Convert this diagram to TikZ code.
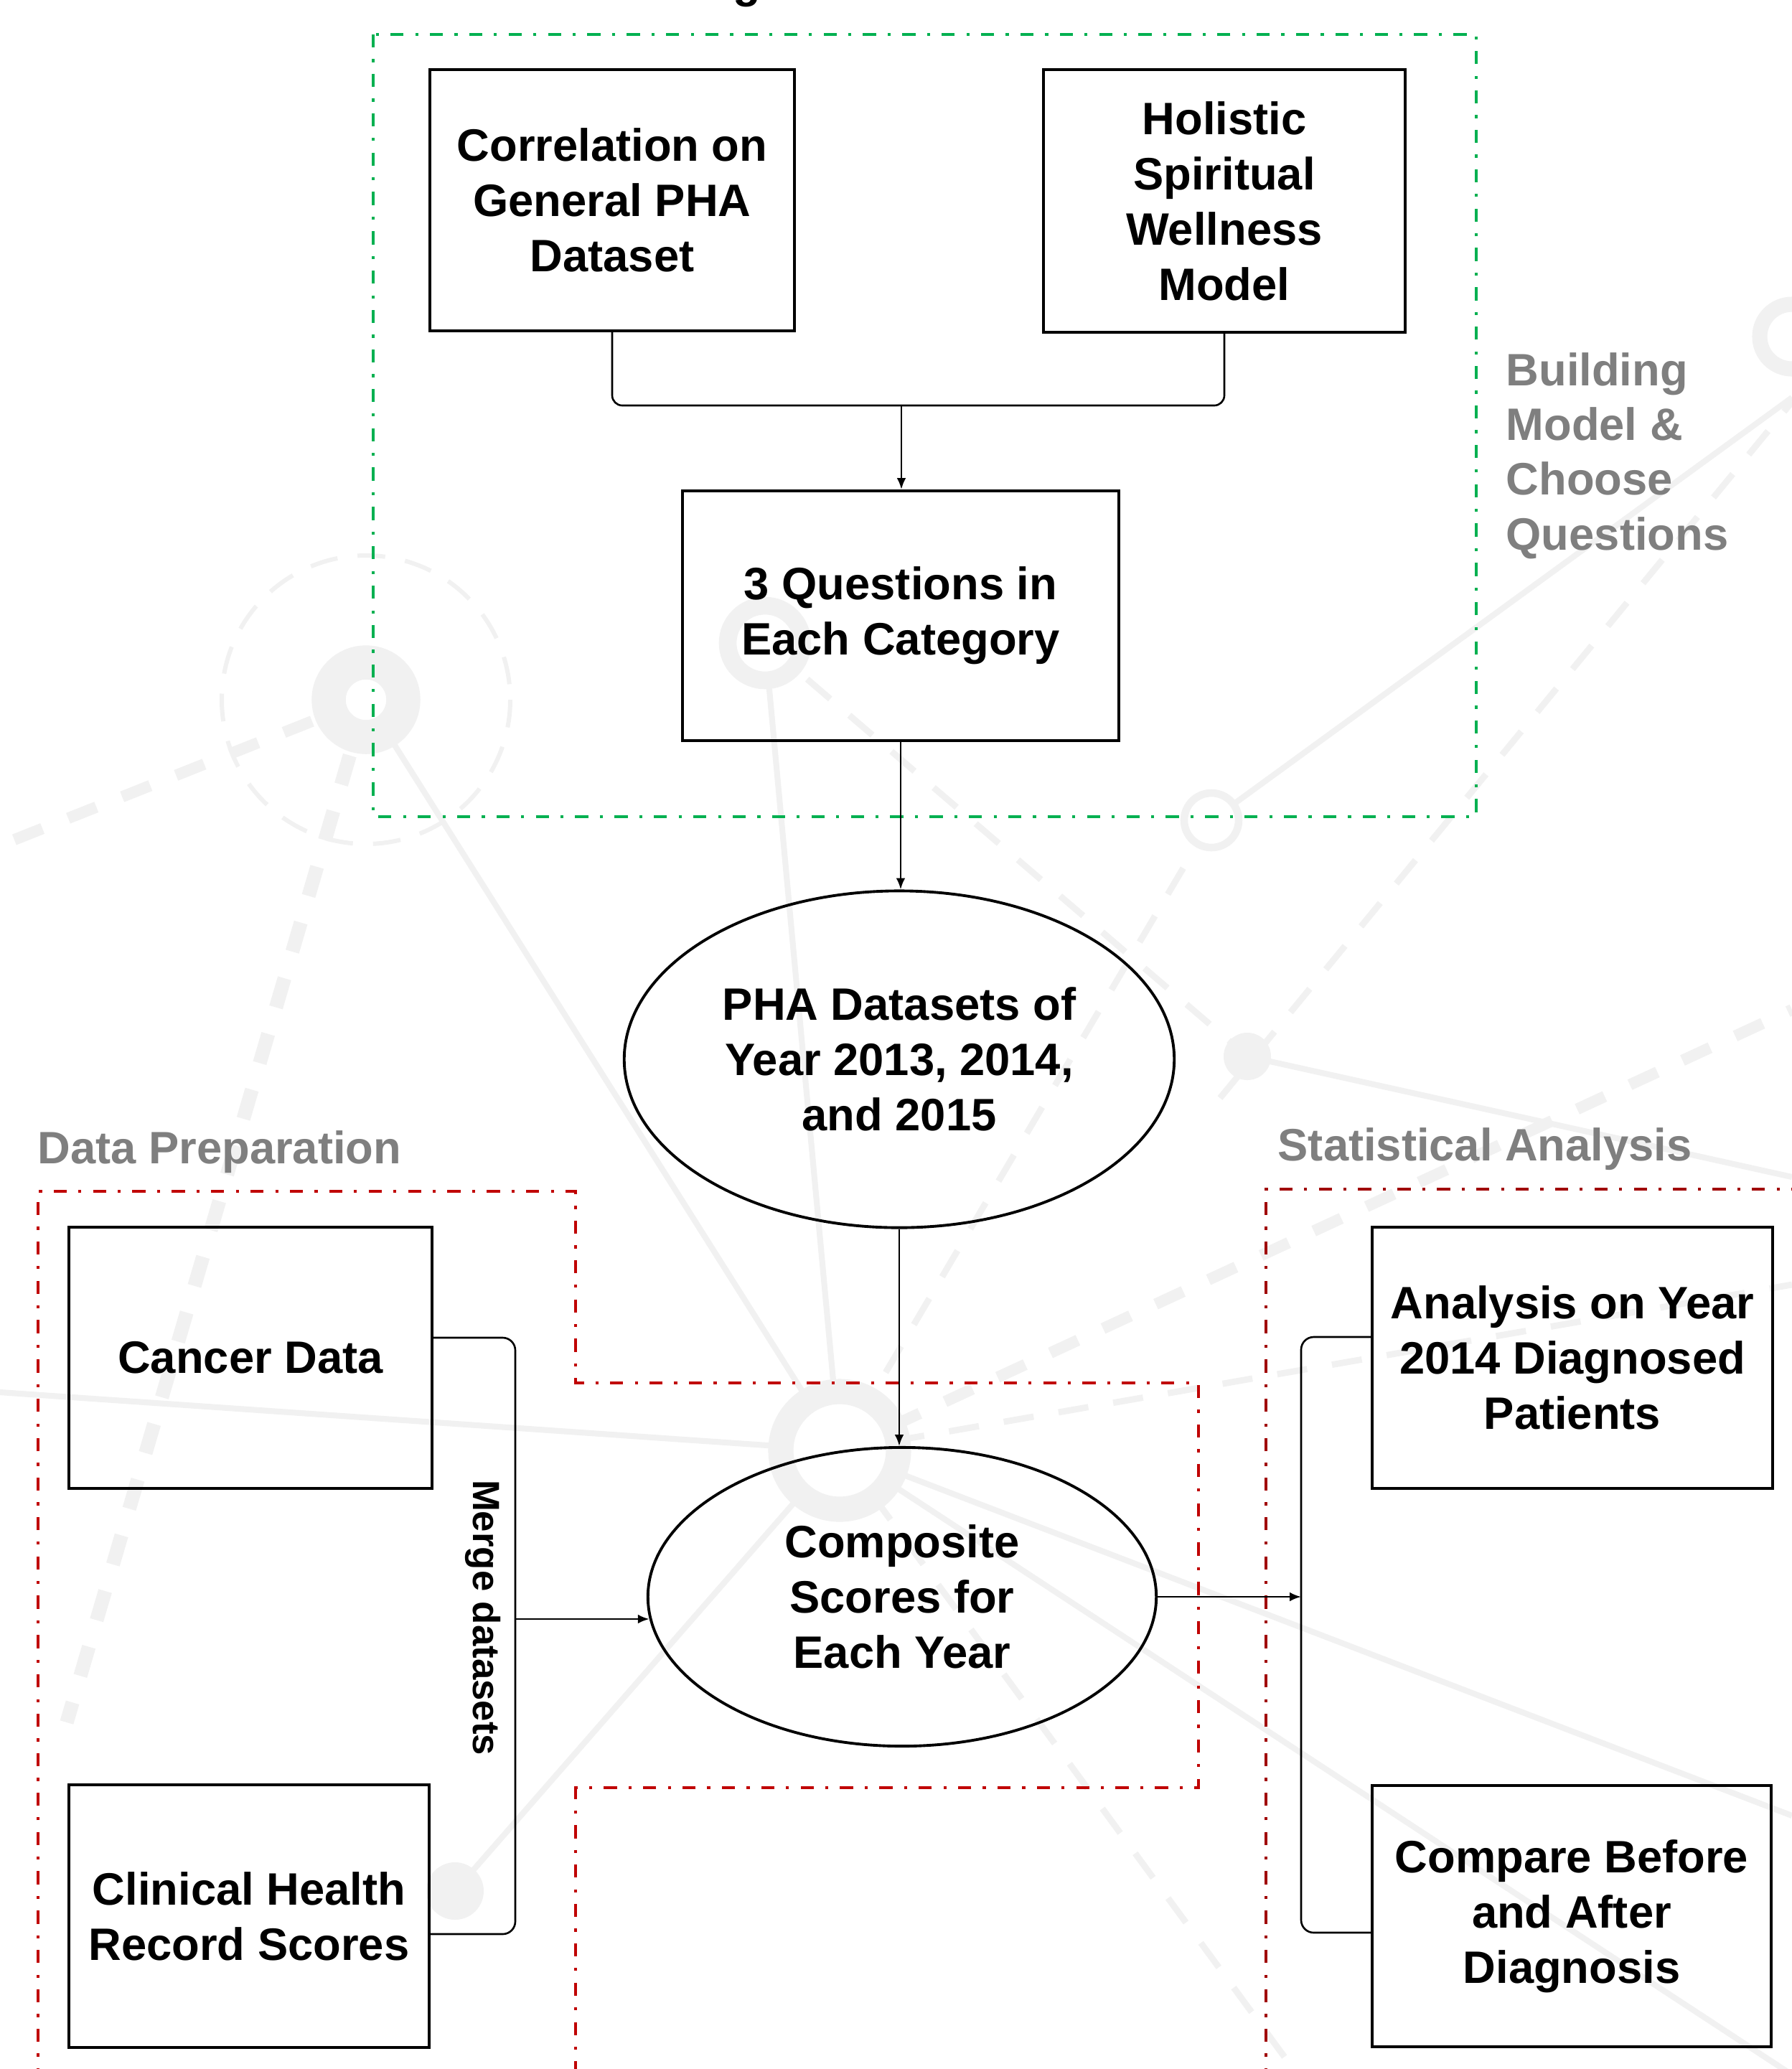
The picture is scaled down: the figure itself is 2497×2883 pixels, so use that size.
\documentclass[tikz,border=0pt]{standalone}
\usepackage{fontspec}
\setmainfont{Liberation Sans}
\usetikzlibrary{arrows.meta,shapes.geometric,calc}
\definecolor{grn}{HTML}{00B050}
\definecolor{redA}{HTML}{C00000}
\definecolor{redB}{HTML}{A00000}
\definecolor{lblgray}{HTML}{7F7F7F}
\definecolor{bgc}{HTML}{F1F1F1}
\tikzset{
  boxnode/.style={draw, line width=1.1pt, rectangle, inner sep=0pt, align=center,
    font=\bfseries\fontsize{18}{21.9}\selectfont},
  ellnode/.style={draw, line width=1.1pt, ellipse, inner sep=0pt, align=center,
    font=\bfseries\fontsize{18}{21.9}\selectfont},
  conn/.style={line width=0.75pt},
  arr/.style={conn, -{Latex[length=4.5pt,width=3.6pt]}},
  dashdot/.style={line width=1.1pt, dash pattern=on 5.2pt off 4.6pt on 1.2pt off 4.6pt},
  grnbox/.style={dashdot, draw=grn},
  redboxA/.style={dashdot, draw=redA, line width=1.2pt},
  redboxB/.style={dashdot, draw=redB, line width=1.2pt},
  lbl/.style={text=lblgray, inner sep=0pt, font=\bfseries\fontsize{18}{21.7}\selectfont},
  bgline/.style={draw=bgc, line width=2.3pt},
  bgdash/.style={draw=bgc, line width=2.5pt, dash pattern=on 12pt off 10pt},
  bgthick/.style={draw=bgc, line width=4.5pt, dash pattern=on 12pt off 11pt},
}
\begin{document}
\begin{tikzpicture}[x=0.01cm,y=-0.01cm]
\useasboundingbox (0,0) rectangle (2497,2883);
\fill[white] (0,0) rectangle (2497,2883);

% ---------- faint background network ----------
\coordinate (bgA) at (510,975);
\coordinate (bgB) at (1170,2021);
\coordinate (bgC) at (1066,896);
\coordinate (bgD) at (1688,1143);
\coordinate (bgE) at (1738,1472);
\coordinate (bgF) at (634,2635);
\draw[bgline] (bgA) -- (bgB);
\draw[bgline] (bgC) -- (bgB);
\draw[bgdash] (bgC) -- (bgE);
\draw[bgline] (bgD) -- (2497,554);
\draw[bgdash] (bgD) -- (bgB);
\draw[bgline] (bgE) -- (2497,1640);
\draw[bgdash] (1700,1530) -- (2497,560);
\draw[bgthick] (bgB) -- (2497,1407);
\draw[bgdash] (bgB) -- (2497,1790);
\draw[bgline] (0,1940) -- (bgB);
\draw[bgline] (bgB) -- (2497,2530);
\draw[bgline] (bgB) -- (2497,2891);
\draw[bgline] (bgB) -- (bgF);
\draw[bgdash] (bgB) -- (1800,2880);
\draw[bgthick] (bgA) -- (0,1178);
\draw[draw=bgc, line width=5.5pt, dash pattern=on 12pt off 11pt] (bgA) -- (93,2400);
\draw[draw=bgc, line width=1.7pt, dash pattern=on 11pt off 8pt] (bgA) circle[radius=201];
\draw[draw=bgc, line width=13.5pt, fill=white] (bgA) circle[radius=52];
\draw[draw=bgc, line width=7pt, fill=white] (bgC) circle[radius=52];
\draw[draw=bgc, line width=3pt, fill=white] (bgD) circle[radius=38];
\draw[draw=bgc, line width=10pt, fill=white] (bgB) circle[radius=82];
\fill[bgc] (bgE) circle[radius=33];
\fill[bgc] (bgF) circle[radius=40];
\draw[draw=bgc, line width=6pt] (2497,469) circle[radius=45];

% ---------- region frames ----------
\draw[grnbox] (520,48) rectangle (2057,1138);
\draw[redboxA] (53,2900) -- (53,1660) -- (802,1660) -- (802,1927) -- (1670,1927)
  -- (1670,2491) -- (802,2491) -- (802,2900);
\draw[redboxB] (1764,2900) -- (1764,1657) -- (2510,1657);

% ---------- labels ----------
\node[font=\bfseries\fontsize{18}{21}\selectfont, anchor=base, inner sep=0pt] (title) at (1041,-4) {g};
\node[lbl, anchor=base west] (dp) at (52,1621) {Data Preparation};
\node[lbl, anchor=base west] (sa) at (1780,1617) {Statistical Analysis};
\node[lbl, anchor=west, align=left] (bm) at (2098,635) {Building\\Model \&\\Choose\\Questions};

% ---------- nodes ----------
\node[boxnode, minimum width=5.08cm, minimum height=3.64cm] (corr) at (853,279) {Correlation on\\General PHA\\Dataset};
\node[boxnode, minimum width=5.04cm, minimum height=3.66cm] (hsw) at (1706,280) {Holistic\\Spiritual\\Wellness\\Model};
\node[boxnode, minimum width=6.08cm, minimum height=3.48cm] (q3) at (1255,858) {3 Questions in\\Each Category};
\node[ellnode, minimum width=7.66cm, minimum height=4.69cm] (pha) at (1253,1476) {PHA Datasets of\\Year 2013, 2014,\\and 2015};
\node[ellnode, minimum width=7.08cm, minimum height=4.16cm] (comp) at (1257,2225) {Composite\\Scores for\\Each Year};
\node[boxnode, minimum width=5.06cm, minimum height=3.64cm] (cancer) at (349,1892) {Cancer Data};
\node[boxnode, minimum width=5.02cm, minimum height=3.65cm] (clin) at (347,2670) {Clinical Health\\Record Scores};
\node[boxnode, minimum width=5.58cm, minimum height=3.64cm] (ana) at (2191,1892) {Analysis on Year\\2014 Diagnosed\\Patients};
\node[boxnode, minimum width=5.56cm, minimum height=3.64cm] (cmp) at (2190,2670) {Compare Before\\and After\\Diagnosis};
\node[rotate=-90, inner sep=0pt, font=\bfseries\fontsize{15}{18}\selectfont] (mlab) at (673,2254) {Merge datasets};

% ---------- connectors ----------
\coordinate (tj) at (1256,565);
\draw[conn, rounded corners=4pt] (corr.south) |- (tj) -| (hsw.south);
\draw[arr] (tj) -- (tj |- q3.north);
\draw[arr] (q3.south) -- (q3.south |- pha.north);
\draw[arr] (pha.south) -- (pha.south |- comp.north);

\coordinate (mb) at (718,2256);
\draw[conn, rounded corners=5pt] ([yshift=0.28cm]cancer.east) -| (mb) |- ([yshift=-0.25cm]clin.east);
\draw[arr] (mb) -- (mb -| comp.185);

\coordinate (rb) at (1813,2225);
\draw[arr] (comp.east) -- (rb);
\draw[conn, rounded corners=5pt] ([yshift=0.29cm]ana.west) -| (rb) |- ([yshift=-0.23cm]cmp.west);
\end{tikzpicture}
\end{document}
